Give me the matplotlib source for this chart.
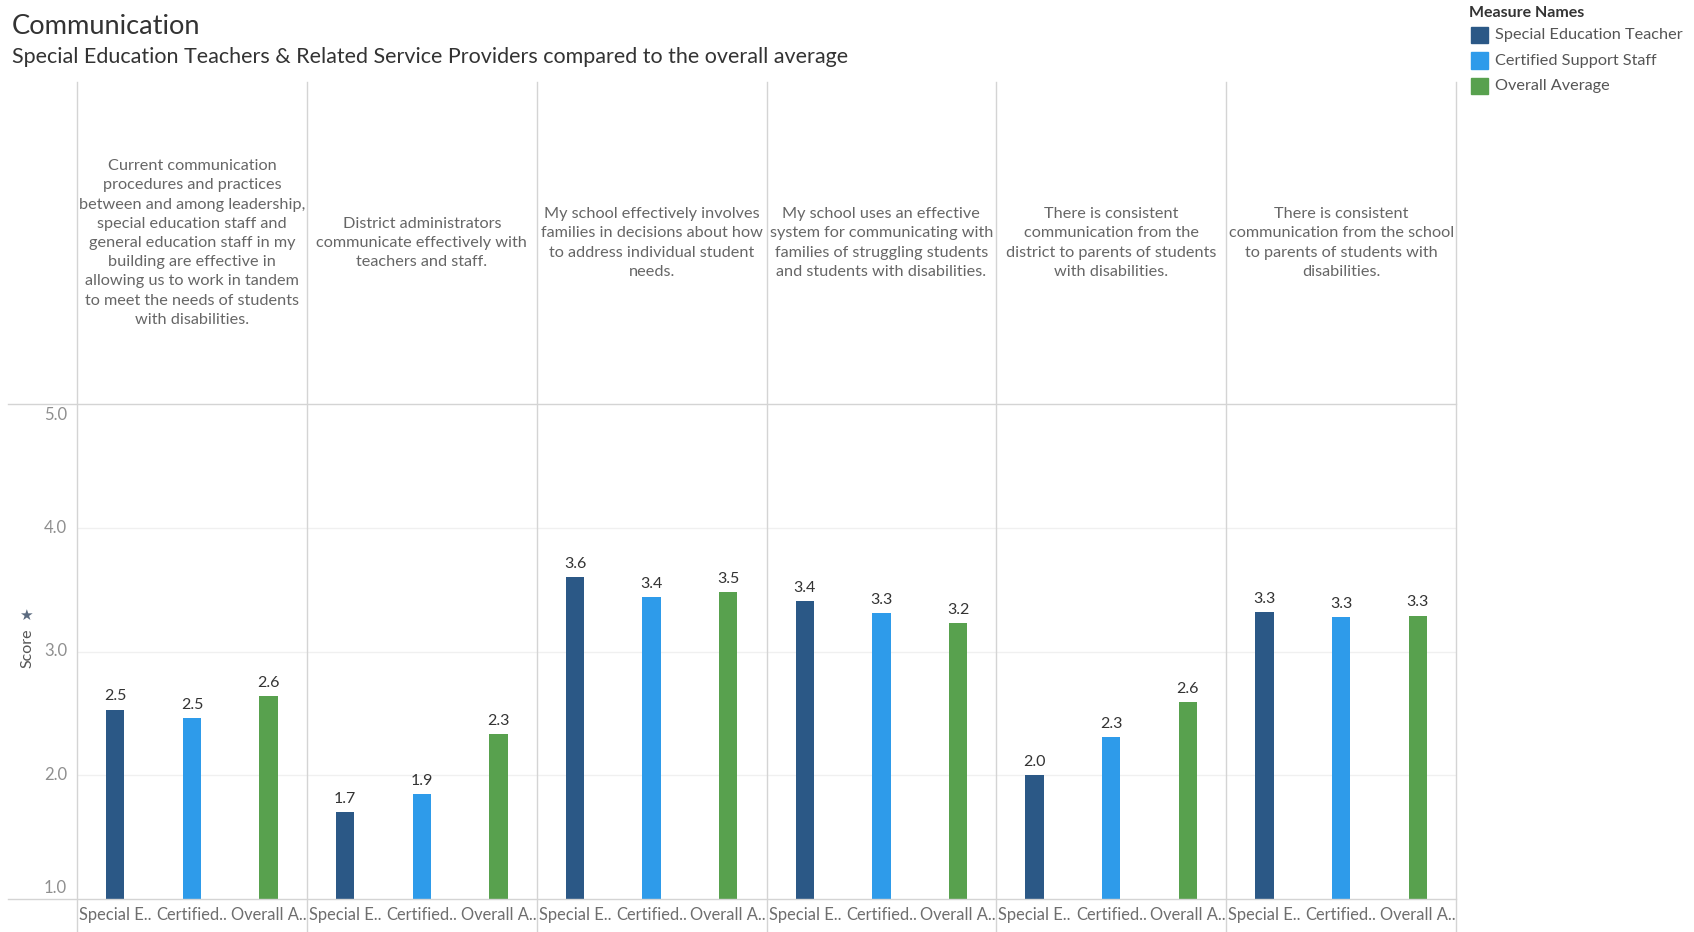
import numpy as np
import matplotlib.pyplot as plt
from matplotlib.lines import Line2D
from matplotlib.patches import Rectangle
from matplotlib.transforms import blended_transform_factory

plt.rcParams['font.family'] = ['Lato', 'DejaVu Sans']

# data
questions = [
    'Current communication\nprocedures and practices\nbetween and among leadership,\nspecial education staff and\ngeneral education staff in my\nbuilding are effective in\nallowing us to work in tandem\nto meet the needs of students\nwith disabilities.',
    'District administrators\ncommunicate effectively with\nteachers and staff.',
    'My school effectively involves\nfamilies in decisions about how\nto address individual student\nneeds.',
    'My school uses an effective\nsystem for communicating with\nfamilies of struggling students\nand students with disabilities.',
    'There is consistent\ncommunication from the\ndistrict to parents of students\nwith disabilities.',
    'There is consistent\ncommunication from the school\nto parents of students with\ndisabilities.',
]
measures = ['Special Education Teacher', 'Certified Support Staff', 'Overall Average']
short_names = ['Special E..', 'Certified..', 'Overall A..']
sped_teacher = [2.53, 1.70, 3.60, 3.41, 2.00, 3.32]
support_staff = [2.46, 1.85, 3.44, 3.31, 2.31, 3.28]
overall_avg = [2.64, 2.33, 3.48, 3.23, 2.59, 3.29]
colors = ['#2b5886', '#2e9bea', '#58a14e']

W, H = 1694, 932
fig = plt.figure(figsize=(W / 100, H / 100), dpi=100)

def fx(px):
    return px / W

def fy(py):
    return 1 - py / H

left, right = 77, 1456
top_hdr, top_plot, bot_plot, bot_lbl = 82, 404, 899, 932
grid_c = '#d4d4d4'

ax = fig.add_axes([fx(left), fy(bot_plot), fx(right - left), fy(top_plot) - fy(bot_plot)])
n_q = len(questions)
series = [sped_teacher, support_staff, overall_avg]
for q in range(n_q):
    for m in range(3):
        x = q * 3 + m
        v = series[m][q]
        ax.bar(x, v - 1, bottom=1, width=0.24, color=colors[m], zorder=3)
        ax.text(x, v + 0.05, f'{v:.1f}', ha='center', va='bottom', fontsize=11.5, color='#333333')
ax.set_xlim(-0.5, n_q * 3 - 0.5)
ax.set_ylim(1, 5)
for g in [2, 3, 4]:
    ax.axhline(g, color='#f0f0f0', lw=1, zorder=1)
for s in ax.spines.values():
    s.set_visible(False)
ax.set_xticks([])
ax.set_yticks([])

# y tick labels (edge labels pulled inside like the original)
ytr = blended_transform_factory(fig.transFigure, ax.transData)
for t in [1, 2, 3, 4, 5]:
    off = 0
    if t == 5:
        off = -0.09
    if t == 1:
        off = 0.09
    fig.text(fx(67), t + off, f'{t:.1f}', transform=ytr, ha='right', va='center',
             fontsize=12, color='#8f8f8f')
fig.text(fx(27), fy(648), 'Score', rotation=90, ha='center', va='center', fontsize=11.5, color='#555555')
fig.text(fx(26), fy(616), '\u2605', ha='center', va='center', fontsize=11, color='#5b6b80')

# x labels
for q in range(n_q):
    for m in range(3):
        xc = left + (right - left) * (q * 3 + m + 0.5) / (n_q * 3)
        fig.text(fx(xc), fy(915), short_names[m], ha='center', va='center', fontsize=11.9, color='#6e6e6e')

# header texts
pw = (right - left) / n_q
for q in range(n_q):
    xc = left + pw * (q + 0.5)
    fig.text(fx(xc), fy(243), questions[q], ha='center', va='center', fontsize=11.7,
             color='#666666', linespacing=1.47)

# grid lines for panels
for q in range(n_q + 1):
    xp = left + pw * q
    fig.add_artist(Line2D([fx(xp), fx(xp)], [fy(top_hdr), fy(bot_lbl)], color=grid_c, lw=1))
for yp in [top_plot, bot_plot]:
    fig.add_artist(Line2D([fx(8), fx(right)], [fy(yp), fy(yp)], color=grid_c, lw=1))

# titles
fig.text(fx(12), fy(26), 'Communication', ha='left', va='center', fontsize=19.6, color='#333333')
fig.text(fx(12), fy(57), 'Special Education Teachers & Related Service Providers compared to the overall average',
         ha='left', va='center', fontsize=15.5, color='#333333')

# legend
fig.text(fx(1469), fy(13), 'Measure Names', ha='left', va='center', fontsize=11.5, color='#333333', fontweight='bold')
for i, name in enumerate(measures):
    yc = 35 + i * 25.5
    fig.add_artist(Rectangle((fx(1471), fy(yc + 8)), fx(17), fy(yc - 8) - fy(yc + 8), color=colors[i]))
    fig.text(fx(1495), fy(yc), name, ha='left', va='center', fontsize=11.7, color='#555555')

fig.savefig('out.png', dpi=100)
